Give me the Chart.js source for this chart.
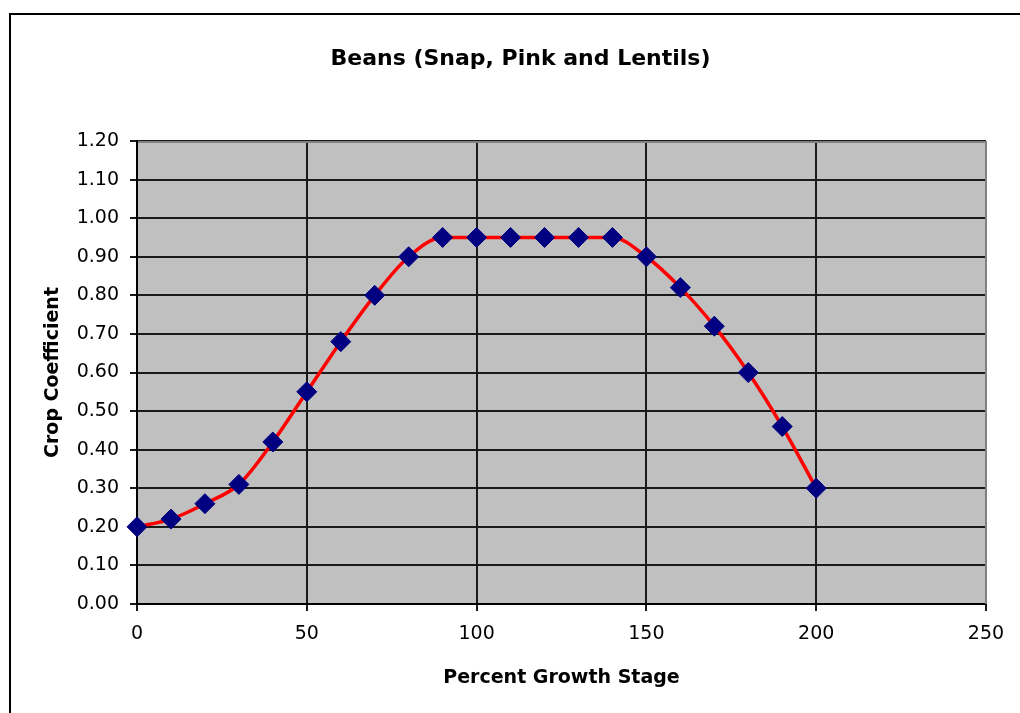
<!DOCTYPE html>
<html>
<head>
<meta charset="utf-8">
<script src="https://cdn.jsdelivr.net/npm/chart.js@4/dist/chart.umd.min.js"></script>
<style>
  html, body { margin: 0; padding: 0; background: #fff; overflow: hidden; }
  #wrap { position: absolute; left: 0; top: 0; width: 1041px; height: 713px; }
</style>
</head>
<body>
<div id="wrap"><canvas id="myChart" width="1041" height="713"></canvas></div>
<script>
// values
const growthStage = [0, 10, 20, 30, 40, 50, 60, 70, 80, 90, 100, 110, 120, 130, 140, 150, 160, 170, 180, 190, 200];
const cropCoef = [0.20, 0.22, 0.26, 0.31, 0.42, 0.55, 0.68, 0.80, 0.90, 0.95, 0.95, 0.95, 0.95, 0.95, 0.95, 0.90, 0.82, 0.72, 0.60, 0.46, 0.30];
const xTicks = [0, 50, 100, 150, 200, 250];
const yTicks = [0, 0.1, 0.2, 0.3, 0.4, 0.5, 0.6, 0.7, 0.8, 0.9, 1.0, 1.1, 1.2];

const titleText = "Beans (Snap, Pink and Lentils)";
const xTitle = "Percent Growth Stage";
const yTitle = "Crop Coefficient";

const FONT = "'DejaVu Sans', sans-serif";

// gray plot background, gray top/right edge, outer frame
const excelLook = {
    id: "excelLook",
    beforeDraw(chart) {
        const a = chart.chartArea;
        const ctx = chart.ctx;
        ctx.save();
        ctx.fillStyle = "#c0c0c0";
        ctx.fillRect(a.left, a.top, a.right - a.left, a.bottom - a.top);
        ctx.restore();
    },
    beforeDatasetsDraw(chart) {
        const a = chart.chartArea;
        const ctx = chart.ctx;
        ctx.save();
        ctx.strokeStyle = "#808080";
        ctx.lineWidth = 2;
        ctx.beginPath();
        ctx.moveTo(a.left + 1, a.top + 1);
        ctx.lineTo(Math.round(a.right), a.top + 1);
        ctx.lineTo(Math.round(a.right), a.bottom);
        ctx.stroke();
        ctx.restore();
    },
    afterDraw(chart) {
        const ctx = chart.ctx;
        ctx.save();
        ctx.fillStyle = "#000";
        ctx.fillRect(9, 13, 2, 720);
        ctx.fillRect(9, 13, 1100, 2);
        ctx.restore();
    }
};

const points = growthStage.map((x, i) => ({ x: x, y: cropCoef[i] }));

const ctx = document.getElementById("myChart").getContext("2d");
const myChart = new Chart(ctx, {
    type: "line",
    data: {
        datasets: [{
            label: "Crop Coefficient",
            data: points,
            borderColor: "#ff0000",
            borderWidth: 3.5,
            cubicInterpolationMode: "monotone",
            pointStyle: "rectRot",
            pointRadius: 10,
            pointBackgroundColor: "#000080",
            pointBorderColor: "#000080",
            pointBorderWidth: 1,
            clip: false
        }]
    },
    options: {
        responsive: false,
        animation: false,
        events: [],
        layout: { padding: 0 },
        plugins: {
            legend: { display: false },
            tooltip: { enabled: false },
            title: {
                display: true,
                text: titleText,
                color: "#000",
                font: { family: FONT, size: 22, weight: "bold", lineHeight: 1.2 },
                padding: { top: 46, bottom: 68.6 }
            }
        },
        scales: {
            x: {
                type: "linear",
                min: 0,
                max: 250,
                afterBuildTicks: s => { s.ticks = xTicks.map(v => ({ value: v })); },
                afterFit: s => { s.height = 109; },
                ticks: {
                    color: "#000",
                    font: { family: FONT, size: 19 },
                    padding: 12,
                    maxRotation: 0
                },
                grid: { color: "#1a1a1a", lineWidth: 2, tickLength: 7, tickColor: "#1a1a1a" },
                border: { color: "#000", width: 2 },
                title: {
                    display: true,
                    text: xTitle,
                    color: "#000",
                    font: { family: FONT, size: 19, weight: "bold", lineHeight: 1.2 },
                    padding: { top: 0, bottom: 24 }
                }
            },
            y: {
                type: "linear",
                min: 0,
                max: 1.2,
                afterBuildTicks: s => { s.ticks = yTicks.map(v => ({ value: v })); },
                afterFit: s => { s.width = 137; },
                ticks: {
                    color: "#000",
                    font: { family: FONT, size: 19 },
                    padding: 11,
                    callback: v => v.toFixed(2)
                },
                grid: { color: "#1a1a1a", lineWidth: 2, tickLength: 7, tickColor: "#1a1a1a" },
                border: { color: "#000", width: 2 },
                title: {
                    display: true,
                    text: yTitle,
                    color: "#000",
                    font: { family: FONT, size: 19, weight: "bold", lineHeight: 1.2 },
                    padding: { top: 42, bottom: 0 }
                }
            },
            // empty right strip so the plot ends where the reference does
            yRight: {
                type: "linear",
                position: "right",
                min: 0,
                max: 1.2,
                afterFit: s => { s.width = 55; },
                ticks: { display: false },
                grid: { display: false, drawOnChartArea: false },
                border: { display: false }
            }
        }
    },
    plugins: [excelLook]
});
</script>
</body>
</html>
